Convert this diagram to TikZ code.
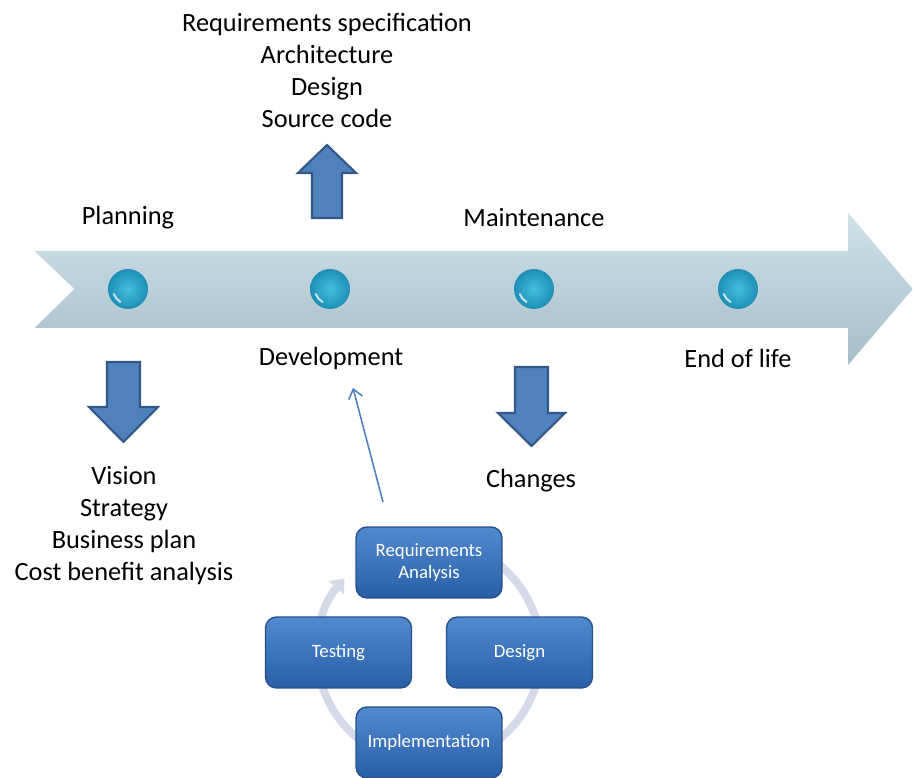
\documentclass[tikz,border=0pt]{standalone}
\usepackage{fontspec}
\setmainfont{Carlito}
\usetikzlibrary{arrows.meta,positioning}
\definecolor{tltop}{RGB}{208,226,234}
\definecolor{tlbot}{RGB}{166,189,199}
\definecolor{pearlin}{RGB}{70,190,222}
\definecolor{pearlout}{RGB}{30,142,182}
\definecolor{arrfill}{RGB}{79,129,189}
\definecolor{arredge}{RGB}{52,88,134}
\definecolor{boxtop}{RGB}{82,138,208}
\definecolor{boxbot}{RGB}{40,94,166}
\definecolor{boxedge}{RGB}{40,80,136}
\definecolor{ringcol}{RGB}{212,218,232}
\tikzset{lbl/.style={font=\fontsize{15}{18.3}\selectfont,align=center,inner sep=0pt},
  blockarr/.style={draw=arredge,fill=arrfill,line width=1.2pt,line join=miter},
  phasebox/.style={rounded corners=0.22cm,top color=boxtop,bottom color=boxbot,draw=boxedge,
    line width=0.8pt,minimum width=2.92cm,minimum height=1.42cm,text=white,align=center,
    font=\fontsize{10.7}{12.5}\selectfont}}

\begin{document}
\begin{tikzpicture}[x=0.02cm,y=0.02cm,>=Stealth,line join=round]
\useasboundingbox (0,0) rectangle (914,778);
% --- timeline arrow with its four pearls
\shade[top color=tltop,bottom color=tlbot,draw=white,line width=1pt,line join=miter]
  (32,528) -- (847,528) -- (847,568) -- (914,489) -- (847,410) -- (847,449) -- (32,449) -- (73,489) -- cycle;
\foreach \x/\n in {128/pplan,330/pdev,534/pmaint,738/peol}{
  \shade[inner color=pearlin,outer color=pearlout] (\x,489) circle (0.4cm) coordinate (\n);
  \draw[white,opacity=0.7,line width=1.2pt,line cap=round] (\x,489) ++(200:0.3cm) arc[start angle=200,end angle=240,radius=0.3cm];
}
\node[lbl] (plan) at (128,560) {Planning};
\node[lbl] (maint) at (534,560) {Maintenance};
\node[lbl] (dev) at (331,420) {Development};
\node[lbl] (eol) at (738,420) {End of life};
% --- block arrows and what they point to
\draw[blockarr] (312,560) -- (312,605) -- (298,605) -- (327,633) -- (356,605) -- (342,605) -- (342,560) -- cycle;
\node[lbl] (outputs) at (327,707.5) {Requirements specification\\Architecture\\Design\\Source code};
\draw[blockarr] (107,416) -- (140,416) -- (140,371) -- (158,371) -- (123.5,336) -- (89,371) -- (107,371) -- cycle;
\node[lbl] (goals) at (124,252.5) {Vision\\Strategy\\Business plan\\Cost benefit analysis};
\draw[blockarr] (515,411) -- (548,411) -- (548,365) -- (565,365) -- (531.5,332) -- (498,365) -- (515,365) -- cycle;
\node[lbl] (chg) at (531,297) {Changes};
% --- development cycle
\coordinate (cyc) at (429,126);
\draw[ringcol,line width=4.5pt,-{Triangle[length=7pt,width=11pt]}]
  (cyc) ++(470:2.24cm) arc[start angle=470,end angle=139,radius=2.24cm];
\node[phasebox] (req) at (429,215.5) {Requirements\\Analysis};
\node[phasebox] (test) at (338.5,125.5) {Testing};
\node[phasebox] (des) at (519.5,125.5) {Design};
\node[phasebox] (impl) at (429,35.5) {Implementation};
\coordinate (linkfoot) at (383,276);
\coordinate (linkhead) at (353,390);
\draw[-{Straight Barb[length=5pt,width=8pt]},draw=arrfill,line width=0.9pt] (linkfoot) -- (linkhead);
\end{tikzpicture}
\end{document}
